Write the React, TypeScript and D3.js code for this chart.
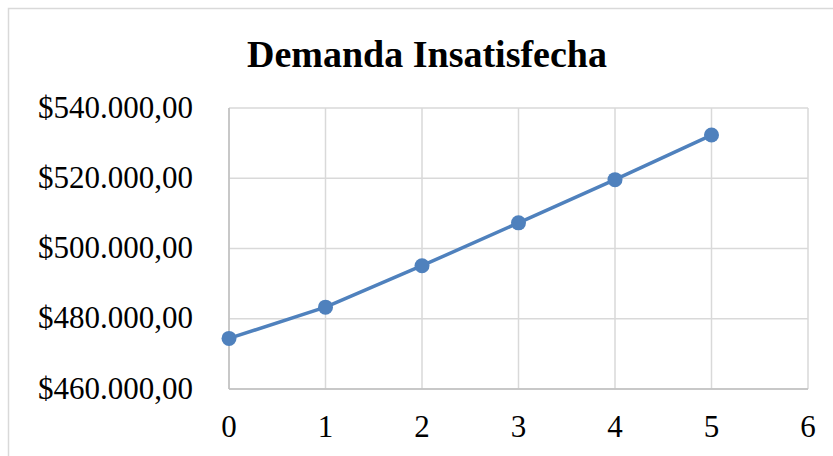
import React, { useEffect, useRef } from 'react';
import * as d3 from 'd3';

const periods = [0, 1, 2, 3, 4, 5];
const demand = [474400, 483300, 495100, 507300, 519600, 532300];
const xTicks = [0, 1, 2, 3, 4, 5, 6];
const yTicks = [460000, 480000, 500000, 520000, 540000];
const title = 'Demanda Insatisfecha';

const fmtMoney = (v: number) => {
  const s = Math.round(v).toString().replace(/\B(?=(\d{3})+(?!\d))/g, '.');
  return `$${s},00`;
};

export default function App() {
  const ref = useRef<SVGSVGElement>(null);

  useEffect(() => {
    if (!ref.current) return;
    const svg = d3.select(ref.current);
    svg.selectAll('*').remove();

    const W = 833, H = 456;
    const margin = { top: 108, right: 25, bottom: 67, left: 229 };
    const width = W - margin.left - margin.right;
    const height = H - margin.top - margin.bottom;
    const font = "'Liberation Serif', 'Times New Roman', serif";

    // chart frame
    svg.append('rect')
      .attr('x', 8.5).attr('y', 8.5)
      .attr('width', W).attr('height', H)
      .attr('fill', '#fff')
      .attr('stroke', '#d9d9d9')
      .attr('stroke-width', 1.5);

    svg.append('text')
      .attr('x', 427).attr('y', 66.5)
      .attr('text-anchor', 'middle')
      .attr('font-family', font)
      .attr('font-weight', 'bold')
      .attr('font-size', '38px')
      .attr('fill', '#000')
      .text(title);

    const g = svg.append('g')
      .attr('transform', `translate(${margin.left},${margin.top})`);

    const x = d3.scaleLinear().domain([0, 6]).range([0, width]);
    const y = d3.scaleLinear().domain([460000, 540000]).range([height, 0]);

    // grid
    g.selectAll('line.hgrid')
      .data(yTicks)
      .enter()
      .append('line')
      .attr('class', 'hgrid')
      .attr('x1', 0).attr('x2', width)
      .attr('y1', d => y(d)).attr('y2', d => y(d))
      .attr('stroke', '#d9d9d9')
      .attr('stroke-width', 1.5);

    g.selectAll('line.vgrid')
      .data(xTicks)
      .enter()
      .append('line')
      .attr('class', 'vgrid')
      .attr('y1', 0).attr('y2', height)
      .attr('x1', d => x(d)).attr('x2', d => x(d))
      .attr('stroke', '#d9d9d9')
      .attr('stroke-width', 1.5);

    // axes lines
    g.append('line')
      .attr('x1', 0).attr('x2', width)
      .attr('y1', height).attr('y2', height)
      .attr('stroke', '#bfbfbf').attr('stroke-width', 1.5);
    g.append('line')
      .attr('x1', 0).attr('x2', 0)
      .attr('y1', 0).attr('y2', height)
      .attr('stroke', '#bfbfbf').attr('stroke-width', 1.5);

    // tick labels
    g.selectAll('text.ylab')
      .data(yTicks)
      .enter()
      .append('text')
      .attr('class', 'ylab')
      .attr('x', -36)
      .attr('y', d => y(d))
      .attr('dy', '0.31em')
      .attr('text-anchor', 'end')
      .attr('font-family', font)
      .attr('font-size', '31px')
      .attr('fill', '#000')
      .text(d => fmtMoney(d));

    g.selectAll('text.xlab')
      .data(xTicks)
      .enter()
      .append('text')
      .attr('class', 'xlab')
      .attr('x', d => x(d))
      .attr('y', height + 48)
      .attr('text-anchor', 'middle')
      .attr('font-family', font)
      .attr('font-size', '31px')
      .attr('fill', '#000')
      .text(d => d);

    const pts = periods.map((p, i) => ({ p, v: demand[i] }));

    const line = d3.line<{ p: number; v: number }>()
      .x(d => x(d.p))
      .y(d => y(d.v));

    g.append('path')
      .datum(pts)
      .attr('d', line)
      .attr('fill', 'none')
      .attr('stroke', '#4f81bd')
      .attr('stroke-width', 3.5)
      .attr('stroke-linejoin', 'round');

    g.selectAll('circle')
      .data(pts)
      .enter()
      .append('circle')
      .attr('cx', d => x(d.p))
      .attr('cy', d => y(d.v))
      .attr('r', 7.5)
      .attr('fill', '#4f81bd');
  }, []);

  return (
    <svg
      ref={ref}
      width={833}
      height={456}
      style={{ position: 'absolute', left: 0, top: 0, display: 'block' }}
    />
  );
}
